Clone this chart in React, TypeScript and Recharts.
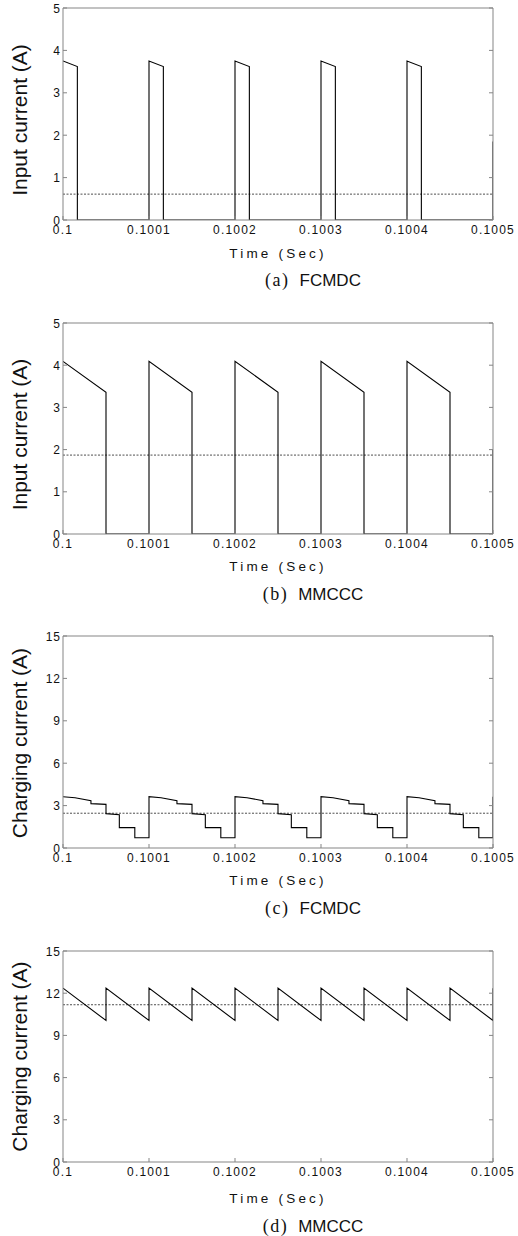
import { LineChart, Line, XAxis, YAxis, ReferenceLine, Label } from "recharts"

// Time axis (seconds)
const timeTicks = [0.1, 0.1001, 0.1002, 0.1003, 0.1004, 0.1005]
const timeTickLabels = ["0.1", "0.1001", "0.1002", "0.1003", "0.1004", "0.1005"]
const inputTicks = [0, 1, 2, 3, 4, 5]
const chargeTicks = [0, 3, 6, 9, 12, 15]

// (a) FCMDC input current
const aTime = [
  0.1, 0.1000167, 0.1000167, 0.1001,
  0.1001, 0.1001167, 0.1001167, 0.1002,
  0.1002, 0.1002167, 0.1002167, 0.1003,
  0.1003, 0.1003167, 0.1003167, 0.1004,
  0.1004, 0.1004167, 0.1004167, 0.1005,
  0.1005,
]
const aCurrent = [
  3.75, 3.62, 0, 0,
  3.75, 3.62, 0, 0,
  3.75, 3.62, 0, 0,
  3.75, 3.62, 0, 0,
  3.75, 3.62, 0, 0,
  1.85,
]
const aMean = 0.61

// (b) MMCCC input current
const bTime = [
  0.1, 0.10005, 0.10005, 0.1001,
  0.1001, 0.10015, 0.10015, 0.1002,
  0.1002, 0.10025, 0.10025, 0.1003,
  0.1003, 0.10035, 0.10035, 0.1004,
  0.1004, 0.10045, 0.10045, 0.1005,
  0.1005,
]
const bCurrent = [
  4.09, 3.36, 0, 0,
  4.09, 3.36, 0, 0,
  4.09, 3.36, 0, 0,
  4.09, 3.36, 0, 0,
  4.09, 3.36, 0, 0,
  2.0,
]
const bMean = 1.87

// (c) FCMDC charging current
const cTime = [
  0.1, 0.100014, 0.1000325, 0.1000325, 0.10005, 0.10005, 0.1000655, 0.1000655, 0.1000835, 0.1000835, 0.1001,
  0.1001, 0.100114, 0.1001325, 0.1001325, 0.10015, 0.10015, 0.1001655, 0.1001655, 0.1001835, 0.1001835, 0.1002,
  0.1002, 0.100214, 0.1002325, 0.1002325, 0.10025, 0.10025, 0.1002655, 0.1002655, 0.1002835, 0.1002835, 0.1003,
  0.1003, 0.100314, 0.1003325, 0.1003325, 0.10035, 0.10035, 0.1003655, 0.1003655, 0.1003835, 0.1003835, 0.1004,
  0.1004, 0.100414, 0.1004325, 0.1004325, 0.10045, 0.10045, 0.1004655, 0.1004655, 0.1004835, 0.1004835, 0.1005,
  0.1005,
]
const cCurrent = [
  3.63, 3.55, 3.35, 3.14, 3.09, 2.43, 2.36, 1.44, 1.44, 0.73, 0.73,
  3.63, 3.55, 3.35, 3.14, 3.09, 2.43, 2.36, 1.44, 1.44, 0.73, 0.73,
  3.63, 3.55, 3.35, 3.14, 3.09, 2.43, 2.36, 1.44, 1.44, 0.73, 0.73,
  3.63, 3.55, 3.35, 3.14, 3.09, 2.43, 2.36, 1.44, 1.44, 0.73, 0.73,
  3.63, 3.55, 3.35, 3.14, 3.09, 2.43, 2.36, 1.44, 1.44, 0.73, 0.73,
  3.63,
]
const cMean = 2.46

// (d) MMCCC charging current
const dTime = [
  0.1,
  0.10005, 0.10005, 0.1001, 0.1001,
  0.10015, 0.10015, 0.1002, 0.1002,
  0.10025, 0.10025, 0.1003, 0.1003,
  0.10035, 0.10035, 0.1004, 0.1004,
  0.10045, 0.10045, 0.1005, 0.1005,
]
const dCurrent = [
  12.36,
  10.06, 12.36, 10.06, 12.36,
  10.06, 12.36, 10.06, 12.36,
  10.06, 12.36, 10.06, 12.36,
  10.06, 12.36, 10.06, 12.36,
  10.06, 12.36, 10.06, 12.36,
]
const dMean = 11.18

const SANS = '"Liberation Sans", Arial, Helvetica, sans-serif'
const SERIF = '"Liberation Serif", "Times New Roman", serif'
const FRAME = "#858585"
const INK = "#111"

function BottomTick({ x, y, payload }: any) {
  const i = timeTicks.indexOf(payload.value)
  return (
    <g>
      <line x1={x} x2={x} y1={y} y2={y - 4} stroke={FRAME} />
      <text x={x} y={y + 14} textAnchor="middle" fontSize={12} letterSpacing={1.2} fill={INK} fontFamily={SANS}>
        {i >= 0 ? timeTickLabels[i] : String(payload.value)}
      </text>
    </g>
  )
}

function TopTick({ x, y }: any) {
  return <line x1={x} x2={x} y1={y} y2={y + 4} stroke={FRAME} />
}

function LeftTick({ x, y, payload }: any) {
  return (
    <g>
      <line x1={x} x2={x + 4} y1={y} y2={y} stroke={FRAME} />
      <text x={x - 2} y={y + 4.5} textAnchor="end" fontSize={12} letterSpacing={1} fill={INK} fontFamily={SANS}>
        {payload.value}
      </text>
    </g>
  )
}

function RightTick({ x, y }: any) {
  return <line x1={x - 4} x2={x} y1={y} y2={y} stroke={FRAME} />
}

type PanelProps = {
  plotTop: number
  plotH: number
  time: number[]
  current: number[]
  mean: number
  yTicks: number[]
  yLabel: string
  yLabelShift: number
  tag: string
  name: string
  xLabelDy: number
  captionDy: number
}

function Panel(p: PanelProps) {
  const rows = p.time.map((t, i) => ({ t, i: p.current[i] }))
  const yMax = p.yTicks[p.yTicks.length - 1]
  const bottomH = 45
  const chartH = 8 + p.plotH + bottomH
  const plotBottom = 8 + p.plotH

  return (
    <>
      <div style={{ position: "absolute", left: 0, top: p.plotTop - 8 }}>
        <LineChart width={518} height={chartH} margin={{ top: 0, right: 0, bottom: 0, left: 0 }}>
          <XAxis
            xAxisId="b"
            type="number"
            dataKey="t"
            domain={[0.1, 0.1005]}
            ticks={timeTicks}
            allowDataOverflow
            interval={0}
            height={bottomH}
            tickSize={0}
            tickMargin={0}
            tickLine={false}
            axisLine={{ stroke: FRAME }}
            tick={BottomTick}
          >
            <Label
              content={() => (
                <text
                  x={278}
                  y={plotBottom + p.xLabelDy + 5}
                  textAnchor="middle"
                  fontSize={13.5}
                  letterSpacing={3.2}
                  fill={INK}
                  fontFamily={SANS}
                >
                  Time (Sec)
                </text>
              )}
            />
          </XAxis>
          <XAxis
            xAxisId="t"
            orientation="top"
            type="number"
            domain={[0.1, 0.1005]}
            ticks={timeTicks}
            allowDataOverflow
            interval={0}
            height={8}
            tickSize={0}
            tickMargin={0}
            tickLine={false}
            axisLine={{ stroke: FRAME }}
            tick={TopTick}
          />
          <YAxis
            yAxisId="l"
            type="number"
            domain={[0, yMax]}
            ticks={p.yTicks}
            allowDataOverflow
            interval={0}
            width={63}
            tickSize={0}
            tickMargin={0}
            tickLine={false}
            axisLine={{ stroke: FRAME }}
            tick={LeftTick}
          >
            <Label
              content={() => {
                const cx = 27
                const cy = 8 + p.plotH / 2 + p.yLabelShift
                return (
                  <text
                    x={cx}
                    y={cy}
                    transform={`rotate(-90 ${cx} ${cy})`}
                    textAnchor="middle"
                    fontSize={21}
                    fill={INK}
                    fontFamily={SANS}
                  >
                    {p.yLabel}
                  </text>
                )
              }}
            />
          </YAxis>
          <YAxis
            yAxisId="r"
            orientation="right"
            type="number"
            domain={[0, yMax]}
            ticks={p.yTicks}
            allowDataOverflow
            interval={0}
            width={25}
            tickSize={0}
            tickMargin={0}
            tickLine={false}
            axisLine={{ stroke: FRAME }}
            tick={RightTick}
          />
          <ReferenceLine
            xAxisId="b"
            yAxisId="l"
            y={p.mean}
            stroke="#222"
            strokeWidth={0.8}
            strokeDasharray="2 1.5"
          />
          <Line
            xAxisId="b"
            yAxisId="l"
            data={rows}
            dataKey="i"
            type="linear"
            stroke="#000"
            strokeWidth={1.1}
            dot={false}
            activeDot={false}
            isAnimationActive={false}
          />
        </LineChart>
      </div>
      <div
        style={{
          position: "absolute",
          left: 313,
          top: p.plotTop + p.plotH + p.captionDy - 11,
          transform: "translateX(-50%)",
          whiteSpace: "nowrap",
          lineHeight: "22px",
          color: INK,
        }}
      >
        <span style={{ fontFamily: SERIF, fontSize: 18, letterSpacing: 1.5 }}>{p.tag}</span>
        <span style={{ fontFamily: SANS, fontSize: 17, marginLeft: 10 }}>{p.name}</span>
      </div>
    </>
  )
}

export default function App() {
  return (
    <div style={{ position: "absolute", left: 0, top: 0, width: 518, height: 1236, background: "#fff" }}>
      <Panel
        plotTop={8}
        plotH={212}
        time={aTime}
        current={aCurrent}
        mean={aMean}
        yTicks={inputTicks}
        yLabel="Input current (A)"
        yLabelShift={6}
        tag="(a)"
        name="FCMDC"
        xLabelDy={33}
        captionDy={60}
      />
      <Panel
        plotTop={323}
        plotH={211}
        time={bTime}
        current={bCurrent}
        mean={bMean}
        yTicks={inputTicks}
        yLabel="Input current (A)"
        yLabelShift={6}
        tag="(b)"
        name="MMCCC"
        xLabelDy={32}
        captionDy={60}
      />
      <Panel
        plotTop={636}
        plotH={212}
        time={cTime}
        current={cCurrent}
        mean={cMean}
        yTicks={chargeTicks}
        yLabel="Charging current (A)"
        yLabelShift={1}
        tag="(c)"
        name="FCMDC"
        xLabelDy={32}
        captionDy={60}
      />
      <Panel
        plotTop={951}
        plotH={211}
        time={dTime}
        current={dCurrent}
        mean={dMean}
        yTicks={chargeTicks}
        yLabel="Charging current (A)"
        yLabelShift={0}
        tag="(d)"
        name="MMCCC"
        xLabelDy={36}
        captionDy={64}
      />
    </div>
  )
}
